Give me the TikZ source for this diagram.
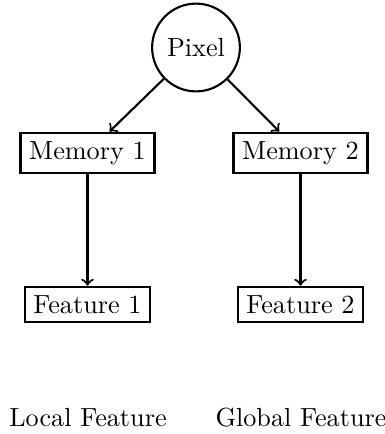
\documentclass[tikz,border=0pt]{standalone}
\begin{document}
\begin{tikzpicture}[x=0.3817pt, y=-0.3817pt, thick,
  box/.style={draw, rectangle},
  disc/.style={draw, circle, minimum size=33.5pt},
  link/.style={->}]
\useasboundingbox (0,0) rectangle (385,434);
% top node
\node[disc] (pixel) at (196,47.5) {Pixel};
% memory row
\node[box] (m1) at (87.5,153) {Memory 1};
\node[box] (m2) at (300.5,153) {Memory 2};
% feature row
\node[box] (f1) at (87.5,304.5) {Feature 1};
\node[box] (f2) at (300.5,304.5) {Feature 2};
% captions
\node[anchor=base] (local) at (88,426) {Local Feature};
\node[anchor=base] (global) at (301,426) {Global Feature};
% connectors
\draw[link] (pixel) -- (m1);
\draw[link] (pixel) -- (m2);
\draw[link] (m1) -- (f1);
\draw[link] (m2) -- (f2);
\end{tikzpicture}
\end{document}
